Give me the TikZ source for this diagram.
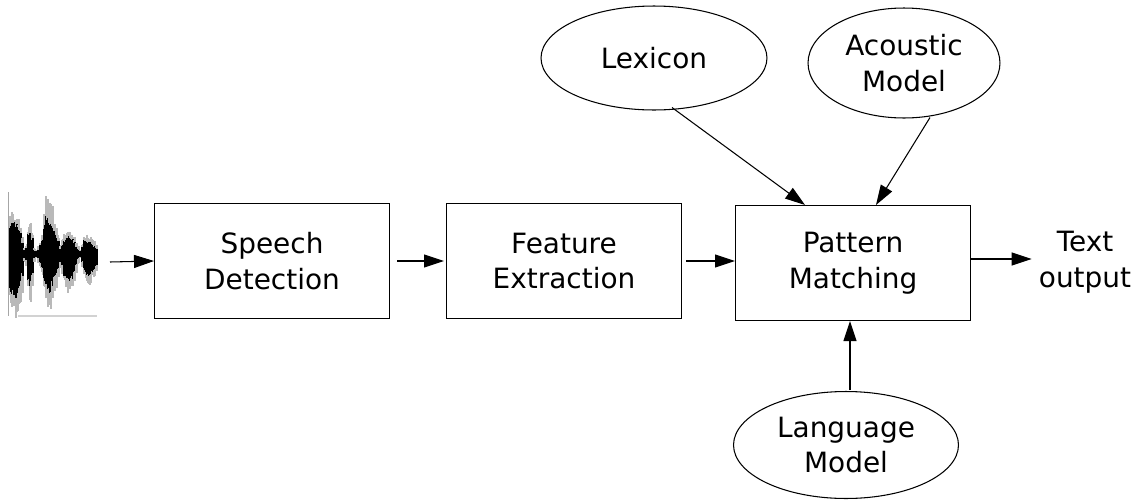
\documentclass[tikz,border=0pt]{standalone}
\usepackage{fontspec}
\setmainfont{DejaVu Sans}
\usetikzlibrary{arrows.meta,shapes.geometric}
\begin{document}
\begin{tikzpicture}[x=0.02cm,y=-0.02cm,
  every node/.style={font=\fontsize{15.9}{20.4}\selectfont, align=center, inner sep=0pt},
  stagebox/.style={draw, line width=0.6pt, minimum width=4.7cm, minimum height=2.3cm},
  model/.style={draw, ellipse, line width=0.6pt},
  flow/.style={line width=0.6pt, -{Triangle[length=0.4cm,width=0.26cm]}}]
\useasboundingbox (0,0) rectangle (1140,501);
% waveform
\draw[gray!70, line width=0.5pt] (8,192) -- (8,316);
\draw[gray!35, line width=1.2pt] (18,316) -- (97,316);
\pgfmathsetseed{7}
\foreach \x/\gt/\gb/\bt/\bb in {10/218/300/225/290,12/212/305/220/295,14/215/312/222/300,16/218/315/225/298,18/222/310/228/292,20/228/300/232/285,22/238/290/242/275,24/248/262/250/258,26/245/265/248/260,28/228/290/232/280,30/225/298/230/285,32/232/285/238/275,34/248/262/250/258,36/250/258/251/257,38/246/262/249/258,40/242/268/245/263,42/235/275/240/268,44/215/290/225/280,46/200/300/215/285,48/196/305/218/290,50/200/308/222/292,52/210/300/225/285,54/220/290/230/278,56/228/285/235/275,58/236/276/240/270,60/245/268/248/262,62/240/272/244/266,64/236/280/240/275,66/234/285/238/280,68/232/290/236/282,70/233/288/237/282,72/235/285/240/278,74/238/280/242/272,76/242/272/246/265,78/246/264/249/259,80/250/258/251/257,82/244/266/247/262,84/238/275/241/270,86/236/280/240/275,88/237/282/241/276,90/238/282/242/276,92/240/278/244/272,94/242/275/246/270,96/245/270/248/266}{
  \foreach \d in {0,1}{
    \pgfmathsetmacro{\ra}{0.85+0.25*rnd}
    \pgfmathsetmacro{\rb}{0.85+0.25*rnd}
    \pgfmathsetmacro{\rc}{0.85+0.2*rnd}
    \pgfmathsetmacro{\rd}{0.85+0.2*rnd}
    \draw[gray!55, line width=0.6pt] (\x+\d,{254-(254-\gt)*\ra}) -- (\x+\d,{254+(\gb-254)*\rb});
    \draw[black, line width=0.6pt] (\x+\d,{254-(254-\bt)*\rc}) -- (\x+\d,{254+(\bb-254)*\rd});
  }
}
\draw[black, line width=1pt] (10,254) -- (97,254);
\coordinate (wave) at (110,262);
% nodes
\node[stagebox] (speech) at (272,261) {Speech\\Detection};
\node[stagebox] (feature) at (564,261) {Feature\\Extraction};
\node[stagebox] (pattern) at (853,263) {Pattern\\Matching};
\node[model, minimum width=4.52cm, minimum height=2.08cm] (lexicon) at (654,58) {Lexicon};
\node[model, minimum width=3.84cm, minimum height=2.2cm] (acoustic) at (904,63) {Acoustic\\Model};
\node[model, minimum width=4.5cm, minimum height=2.14cm] (language) at (846,445) {Language\\Model};
\node (text) at (1085,262) {Text\\output};
% connectors
\draw[flow] (wave) -- (speech.west);
\draw[flow] ([xshift=0.14cm]speech.east) -- ([xshift=-0.04cm]feature.west);
\draw[flow] ([xshift=0.08cm]feature.east) -- (pattern.west |- feature.east);
\draw[flow] (pattern.east |- 0,259) -- ([xshift=-0.14cm]text.west |- 0,259);
\draw[flow] (lexicon.south) ++(18,-3) coordinate (lx) (lx) -- ([xshift=-0.96cm]pattern.north);
\draw[flow] (acoustic.south) ++(26,-1) coordinate (ax) (ax) -- ([xshift=0.46cm]pattern.north);
\coordinate (lt) at (850,390);
\draw[flow] (lt) -- (pattern.south -| lt);
\end{tikzpicture}
\end{document}
